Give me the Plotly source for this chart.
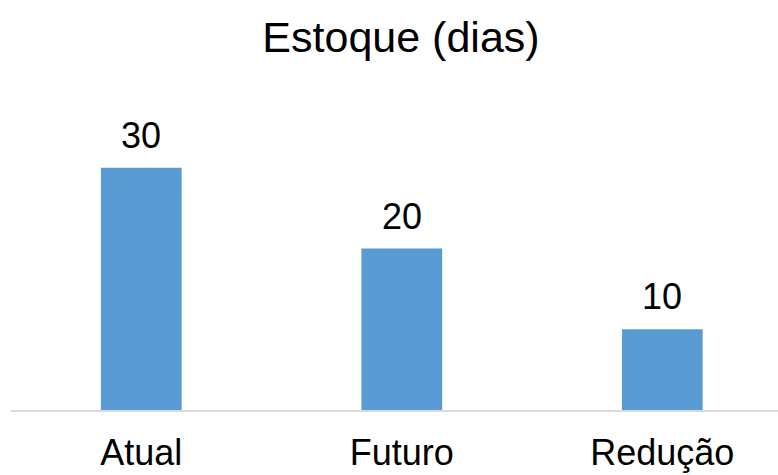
import plotly.graph_objects as go

categories = ["Atual", "Futuro", "Redução"]
values = [30, 20, 10]
labels = ["30", "20", "10"]

FONT = "Liberation Sans, Arial, sans-serif"

fig = go.Figure()
fig.add_trace(go.Bar(
    x=categories, y=values, width=0.31,
    marker=dict(color="#5B9BD5", line=dict(width=0)),
    hoverinfo="skip",
))
for c, v, t in zip(categories, values, labels):
    fig.add_annotation(x=c, y=v, text=t, showarrow=False, yanchor="bottom",
                       yshift=10, font=dict(family=FONT, size=36, color="#000000"))

fig.update_layout(
    width=778, height=475,
    margin=dict(l=11, r=0, t=100, b=65),
    paper_bgcolor="white", plot_bgcolor="white",
    showlegend=False,
    title=dict(text="Estoque (dias)", x=401/778, xanchor="center",
               y=1 - 37/475, yanchor="middle", yref="container",
               font=dict(family=FONT, size=43, color="#000000")),
    xaxis=dict(range=[-0.5, 2.444], showgrid=False, zeroline=False,
               showline=True, linecolor="#D9D9D9", linewidth=2,
               ticks="", ticklabelstandoff=10,
               tickfont=dict(family=FONT, size=36, color="#000000"),
               fixedrange=True),
    yaxis=dict(range=[0, 38.4], visible=False, fixedrange=True),
)
fig.write_html("out.html")
